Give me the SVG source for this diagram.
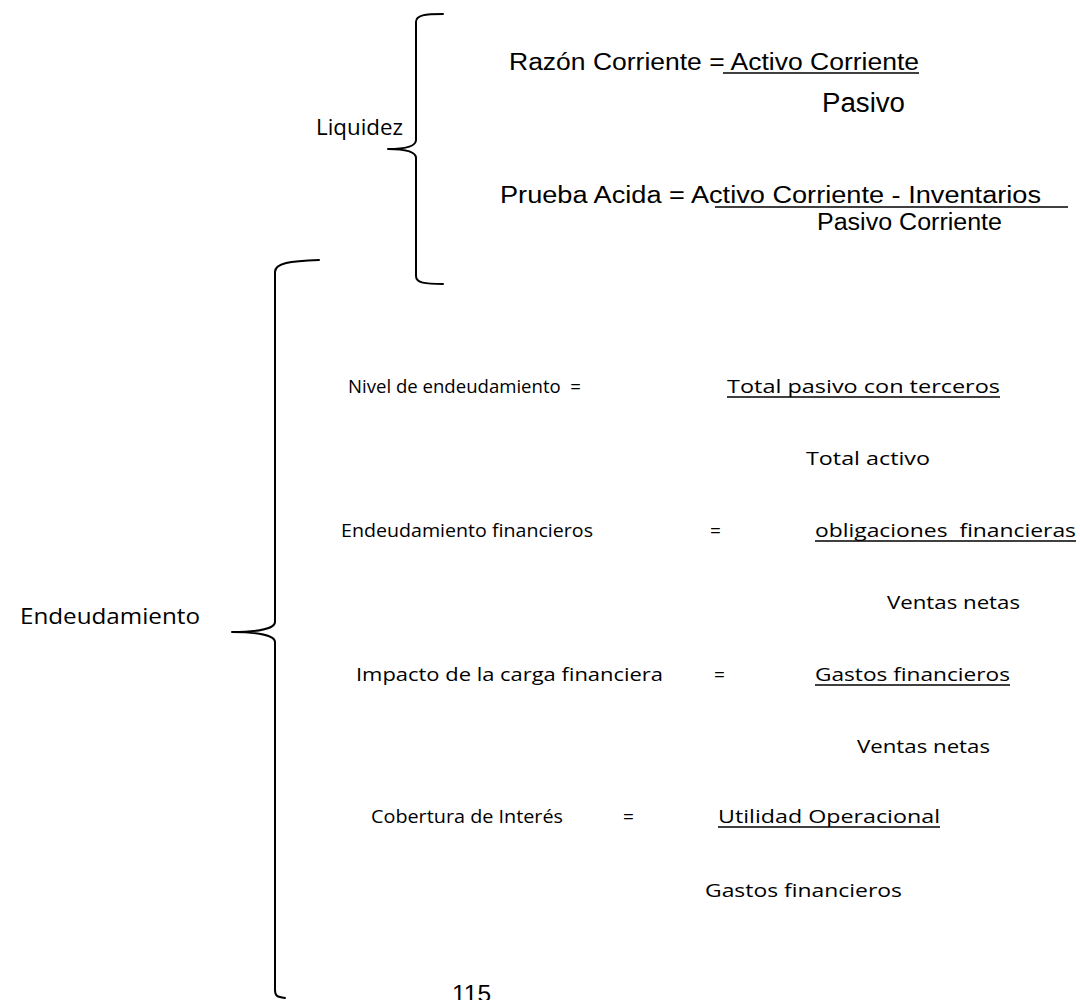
<svg xmlns="http://www.w3.org/2000/svg" width="1080" height="1000" viewBox="0 0 1080 1000">
  <style>
    .brace { fill: none; stroke: #000; stroke-width: 2; stroke-linecap: round; stroke-linejoin: round; }
    .uline { stroke: #000; stroke-width: 1.6; }
    .arial { font-family: "Liberation Sans", Arial, sans-serif; fill: #000; }
    .cal { font-family: "Open Sans", "Noto Sans", sans-serif; font-size: 19px; fill: #000; white-space: pre; }
    .big { font-family: "Open Sans", "Noto Sans", sans-serif; font-size: 21px; fill: #000; }
  </style>
  <rect width="1080" height="1000" fill="#fff"/>

  <!-- brackets -->
  <g id="connectors">
    <path class="brace" d="M443,14 C425,14 416,15 416,22 L416,140 C416,146 408,149 388,149 C408,149 416,152 416,158 L416,276 C416,283 425,284 443,284"/>
    <path class="brace" d="M319,260 C290,261 275,263 275,272 L275,622 C275,628 260,632 232,632 C260,632 275,636 275,642 L275,990 C275,996 277,997 285,998"/>
  </g>

  <!-- liquidity group -->
  <g id="liquidez">
    <text class="big" x="316" y="135" textLength="87" lengthAdjust="spacingAndGlyphs">Liquidez</text>
  </g>

  <g id="razon-corriente">
    <text class="arial" x="509" y="70" font-size="23" textLength="410" lengthAdjust="spacingAndGlyphs">Razón Corriente = Activo Corriente</text>
    <line class="uline" x1="723" y1="73" x2="919" y2="73"/>
    <text class="arial" x="822" y="112" font-size="27" textLength="83" lengthAdjust="spacingAndGlyphs">Pasivo</text>
  </g>

  <g id="prueba-acida">
    <text class="arial" x="500" y="203" font-size="23" textLength="541" lengthAdjust="spacingAndGlyphs">Prueba Acida = Activo Corriente - Inventarios</text>
    <line class="uline" x1="715" y1="207" x2="1068" y2="207"/>
    <text class="arial" x="817" y="230" font-size="23" textLength="185" lengthAdjust="spacingAndGlyphs">Pasivo Corriente</text>
  </g>

  <!-- debt group -->
  <g id="endeudamiento">
    <text class="big" x="20" y="624" textLength="180" lengthAdjust="spacingAndGlyphs">Endeudamiento</text>
  </g>

  <g id="nivel-endeudamiento">
    <text class="cal" x="348" y="393" textLength="233" lengthAdjust="spacingAndGlyphs">Nivel de endeudamiento  =</text>
    <text class="cal" x="727" y="393" textLength="273" lengthAdjust="spacingAndGlyphs">Total pasivo con terceros</text>
    <line class="uline" x1="727" y1="397" x2="1000" y2="397"/>
    <text class="cal" x="806" y="465" textLength="124" lengthAdjust="spacingAndGlyphs">Total activo</text>
  </g>

  <g id="endeudamiento-financiero">
    <text class="cal" x="341" y="537" textLength="252" lengthAdjust="spacingAndGlyphs">Endeudamiento financieros</text>
    <text class="cal" x="710" y="537">=</text>
    <text class="cal" x="815" y="537" textLength="261" lengthAdjust="spacingAndGlyphs">obligaciones  financieras</text>
    <line class="uline" x1="815" y1="541" x2="1076" y2="541"/>
    <text class="cal" x="887" y="609" textLength="133" lengthAdjust="spacingAndGlyphs">Ventas netas</text>
  </g>

  <g id="impacto-carga">
    <text class="cal" x="356" y="681" textLength="307" lengthAdjust="spacingAndGlyphs">Impacto de la carga financiera</text>
    <text class="cal" x="714" y="681">=</text>
    <text class="cal" x="815" y="681" textLength="195" lengthAdjust="spacingAndGlyphs">Gastos financieros</text>
    <line class="uline" x1="815" y1="685" x2="1010" y2="685"/>
    <text class="cal" x="857" y="753" textLength="133" lengthAdjust="spacingAndGlyphs">Ventas netas</text>
  </g>

  <g id="cobertura-interes">
    <text class="cal" x="371" y="823" textLength="192" lengthAdjust="spacingAndGlyphs">Cobertura de Interés</text>
    <text class="cal" x="623" y="823">=</text>
    <text class="cal" x="718" y="823" textLength="222" lengthAdjust="spacingAndGlyphs">Utilidad Operacional</text>
    <line class="uline" x1="718" y1="827" x2="940" y2="827"/>
    <text class="cal" x="705" y="897" textLength="197" lengthAdjust="spacingAndGlyphs">Gastos financieros</text>
  </g>

  <g id="pagina">
    <text class="arial" x="452" y="1002" font-size="24" textLength="39" lengthAdjust="spacingAndGlyphs">115</text>
  </g>
</svg>
